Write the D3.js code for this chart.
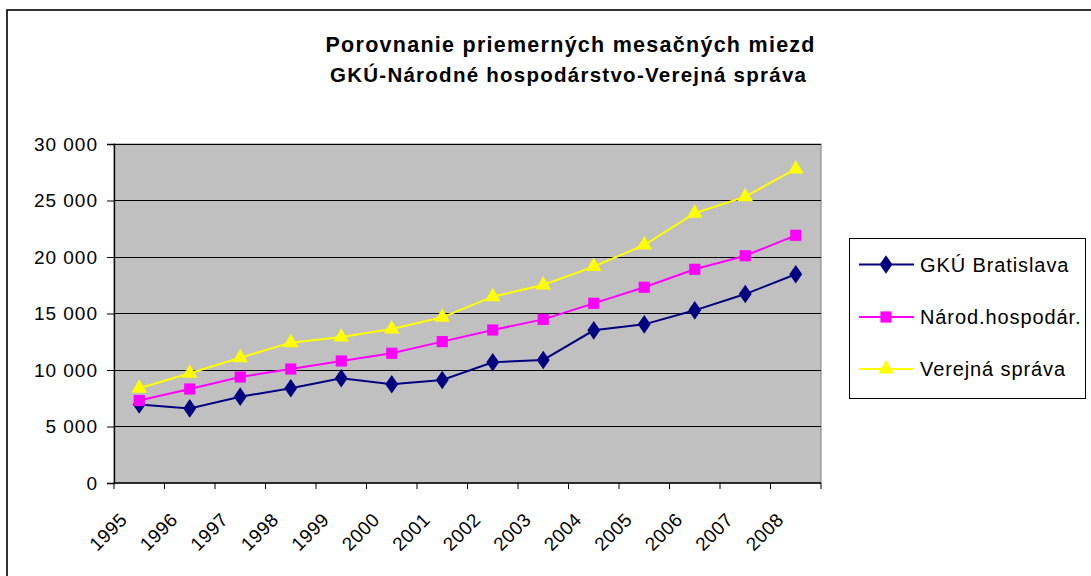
<!DOCTYPE html>
<html><head><meta charset="utf-8">
<script src="https://cdn.jsdelivr.net/npm/d3@7"></script>
<style>html,body{margin:0;padding:0;background:#fff;} svg{display:block;font-family:"Liberation Sans",Arial,sans-serif;}</style>
</head><body>
<svg id="c" width="1091" height="576"></svg>
<script>
const years = ["1995","1996","1997","1998","1999","2000","2001","2002","2003","2004","2005","2006","2007","2008"];
const gku = [6950, 6600, 7640, 8380, 9270, 8740, 9110, 10680, 10890, 13510, 14040, 15280, 16720, 18470];
const narod = [7300, 8320, 9380, 10090, 10800, 11480, 12510, 13540, 14480, 15900, 17320, 18910, 20110, 21920];
const verejna = [8380, 9710, 11090, 12420, 12920, 13630, 14660, 16490, 17520, 19150, 21060, 23870, 25340, 27790];
const seriesNames = ["GKÚ Bratislava", "Národ.hospodár.", "Verejná správa"];
const yTicks = [0, 5000, 10000, 15000, 20000, 25000, 30000];
const titleLines = ["Porovnanie priemerných mesačných miezd", "GKÚ-Národné hospodárstvo-Verejná správa"];

const series = [
  {name: seriesNames[0], values: gku, color: "#000080", sym: d3.symbolDiamond, size: 100},
  {name: seriesNames[1], values: narod, color: "#FF00FF", sym: d3.symbolSquare, size: 125},
  {name: seriesNames[2], values: verejna, color: "#FFFF00", sym: d3.symbolTriangle, size: 105}
];

const svg = d3.select("#c");
const L = 114, R = 821, T = 144, B = 483;

// outer frame
svg.append("rect").attr("x", 7).attr("y", 10).attr("width", 1200).attr("height", 700)
  .attr("fill", "#fff").attr("stroke", "#000").attr("stroke-width", 1.6);

const x = d3.scaleBand().domain(years).range([L, R]).padding(0);
const y = d3.scaleLinear().domain([0, 30000]).range([B, T]);

// plot area
svg.append("rect").attr("x", L).attr("y", T).attr("width", R - L).attr("height", B - T)
  .attr("fill", "#C0C0C0").attr("stroke", "#808080").attr("stroke-width", 1);

// gridlines
svg.append("g").selectAll("line").data(yTicks.filter(d => d > 0)).join("line")
  .attr("x1", L).attr("x2", R).attr("y1", d => y(d)).attr("y2", d => y(d))
  .attr("stroke", "#000").attr("stroke-width", 1).attr("shape-rendering", "crispEdges");

// y axis
const fmt = d => d3.format(",")(d).replace(/,/g, " ");
const yAxis = d3.axisLeft(y).tickValues(yTicks).tickSize(7).tickPadding(9).tickFormat(fmt);
const gy = svg.append("g").attr("transform", `translate(${L},0)`).call(yAxis);
gy.select(".domain").attr("stroke", "#000").attr("stroke-width", 1.3);
gy.selectAll(".tick line").attr("stroke", "#000");
gy.selectAll("text").attr("font-size", 19).attr("letter-spacing", 1).attr("fill", "#000")
  .attr("font-family", "Liberation Sans, Arial, sans-serif");

// x axis
const boundaries = d3.range(years.length + 1).map(i => L + i * x.bandwidth());
const gx = svg.append("g");
gx.append("line").attr("x1", L).attr("x2", R).attr("y1", B).attr("y2", B)
  .attr("stroke", "#000").attr("stroke-width", 1.3);
gx.selectAll("line.t").data(boundaries).join("line").attr("class", "t")
  .attr("x1", d => d).attr("x2", d => d).attr("y1", B).attr("y2", B + 6)
  .attr("stroke", "#000");
gx.selectAll("text").data(years).join("text")
  .attr("transform", d => `translate(${x(d) + x.bandwidth() / 2 - 11},${B + 38}) rotate(-45)`)
  .attr("text-anchor", "end").attr("font-size", 19).attr("letter-spacing", 0.4).text(d => d);

// lines
const cx = (d, i) => x(years[i]) + x.bandwidth() / 2;
const line = d3.line().x((d, i) => cx(d, i)).y(d => y(d));
series.forEach(s => {
  svg.append("path").datum(s.values).attr("d", line)
    .attr("fill", "none").attr("stroke", s.color).attr("stroke-width", 2);
});
series.forEach(s => {
  svg.append("g").selectAll("path").data(s.values).join("path")
    .attr("d", d3.symbol().type(s.sym).size(s.size))
    .attr("transform", (d, i) => `translate(${cx(d, i)},${y(d)})` + (s.sym === d3.symbolDiamond ? " scale(1.2,1)" : ""))
    .attr("fill", s.color);
});

// title
svg.append("text").attr("x", 570).attr("y", 52).attr("text-anchor", "middle")
  .attr("font-size", 21.5).attr("font-weight", "bold").attr("textLength", 489).attr("lengthAdjust", "spacing")
  .text(titleLines[0]);
svg.append("text").attr("x", 568).attr("y", 82).attr("text-anchor", "middle")
  .attr("font-size", 20.5).attr("font-weight", "bold").attr("textLength", 476).attr("lengthAdjust", "spacing")
  .text(titleLines[1]);

// legend
const lg = svg.append("g");
lg.append("rect").attr("x", 849.5).attr("y", 238.5).attr("width", 236).attr("height", 160)
  .attr("fill", "#fff").attr("stroke", "#000").attr("stroke-width", 1);
const rowY = [264.5, 317, 369];
series.forEach((s, i) => {
  lg.append("line").attr("x1", 859).attr("x2", 914).attr("y1", rowY[i]).attr("y2", rowY[i])
    .attr("stroke", s.color).attr("stroke-width", 2);
  lg.append("path").attr("d", d3.symbol().type(s.sym).size(s.size))
    .attr("transform", `translate(886,${rowY[i]})` + (s.sym === d3.symbolDiamond ? " scale(1.2,1)" : ""))
    .attr("fill", s.color);
  lg.append("text").attr("x", 920).attr("y", rowY[i] + 7).attr("font-size", 20)
    .attr("letter-spacing", 0.9).text(s.name);
});
</script>
</body></html>
